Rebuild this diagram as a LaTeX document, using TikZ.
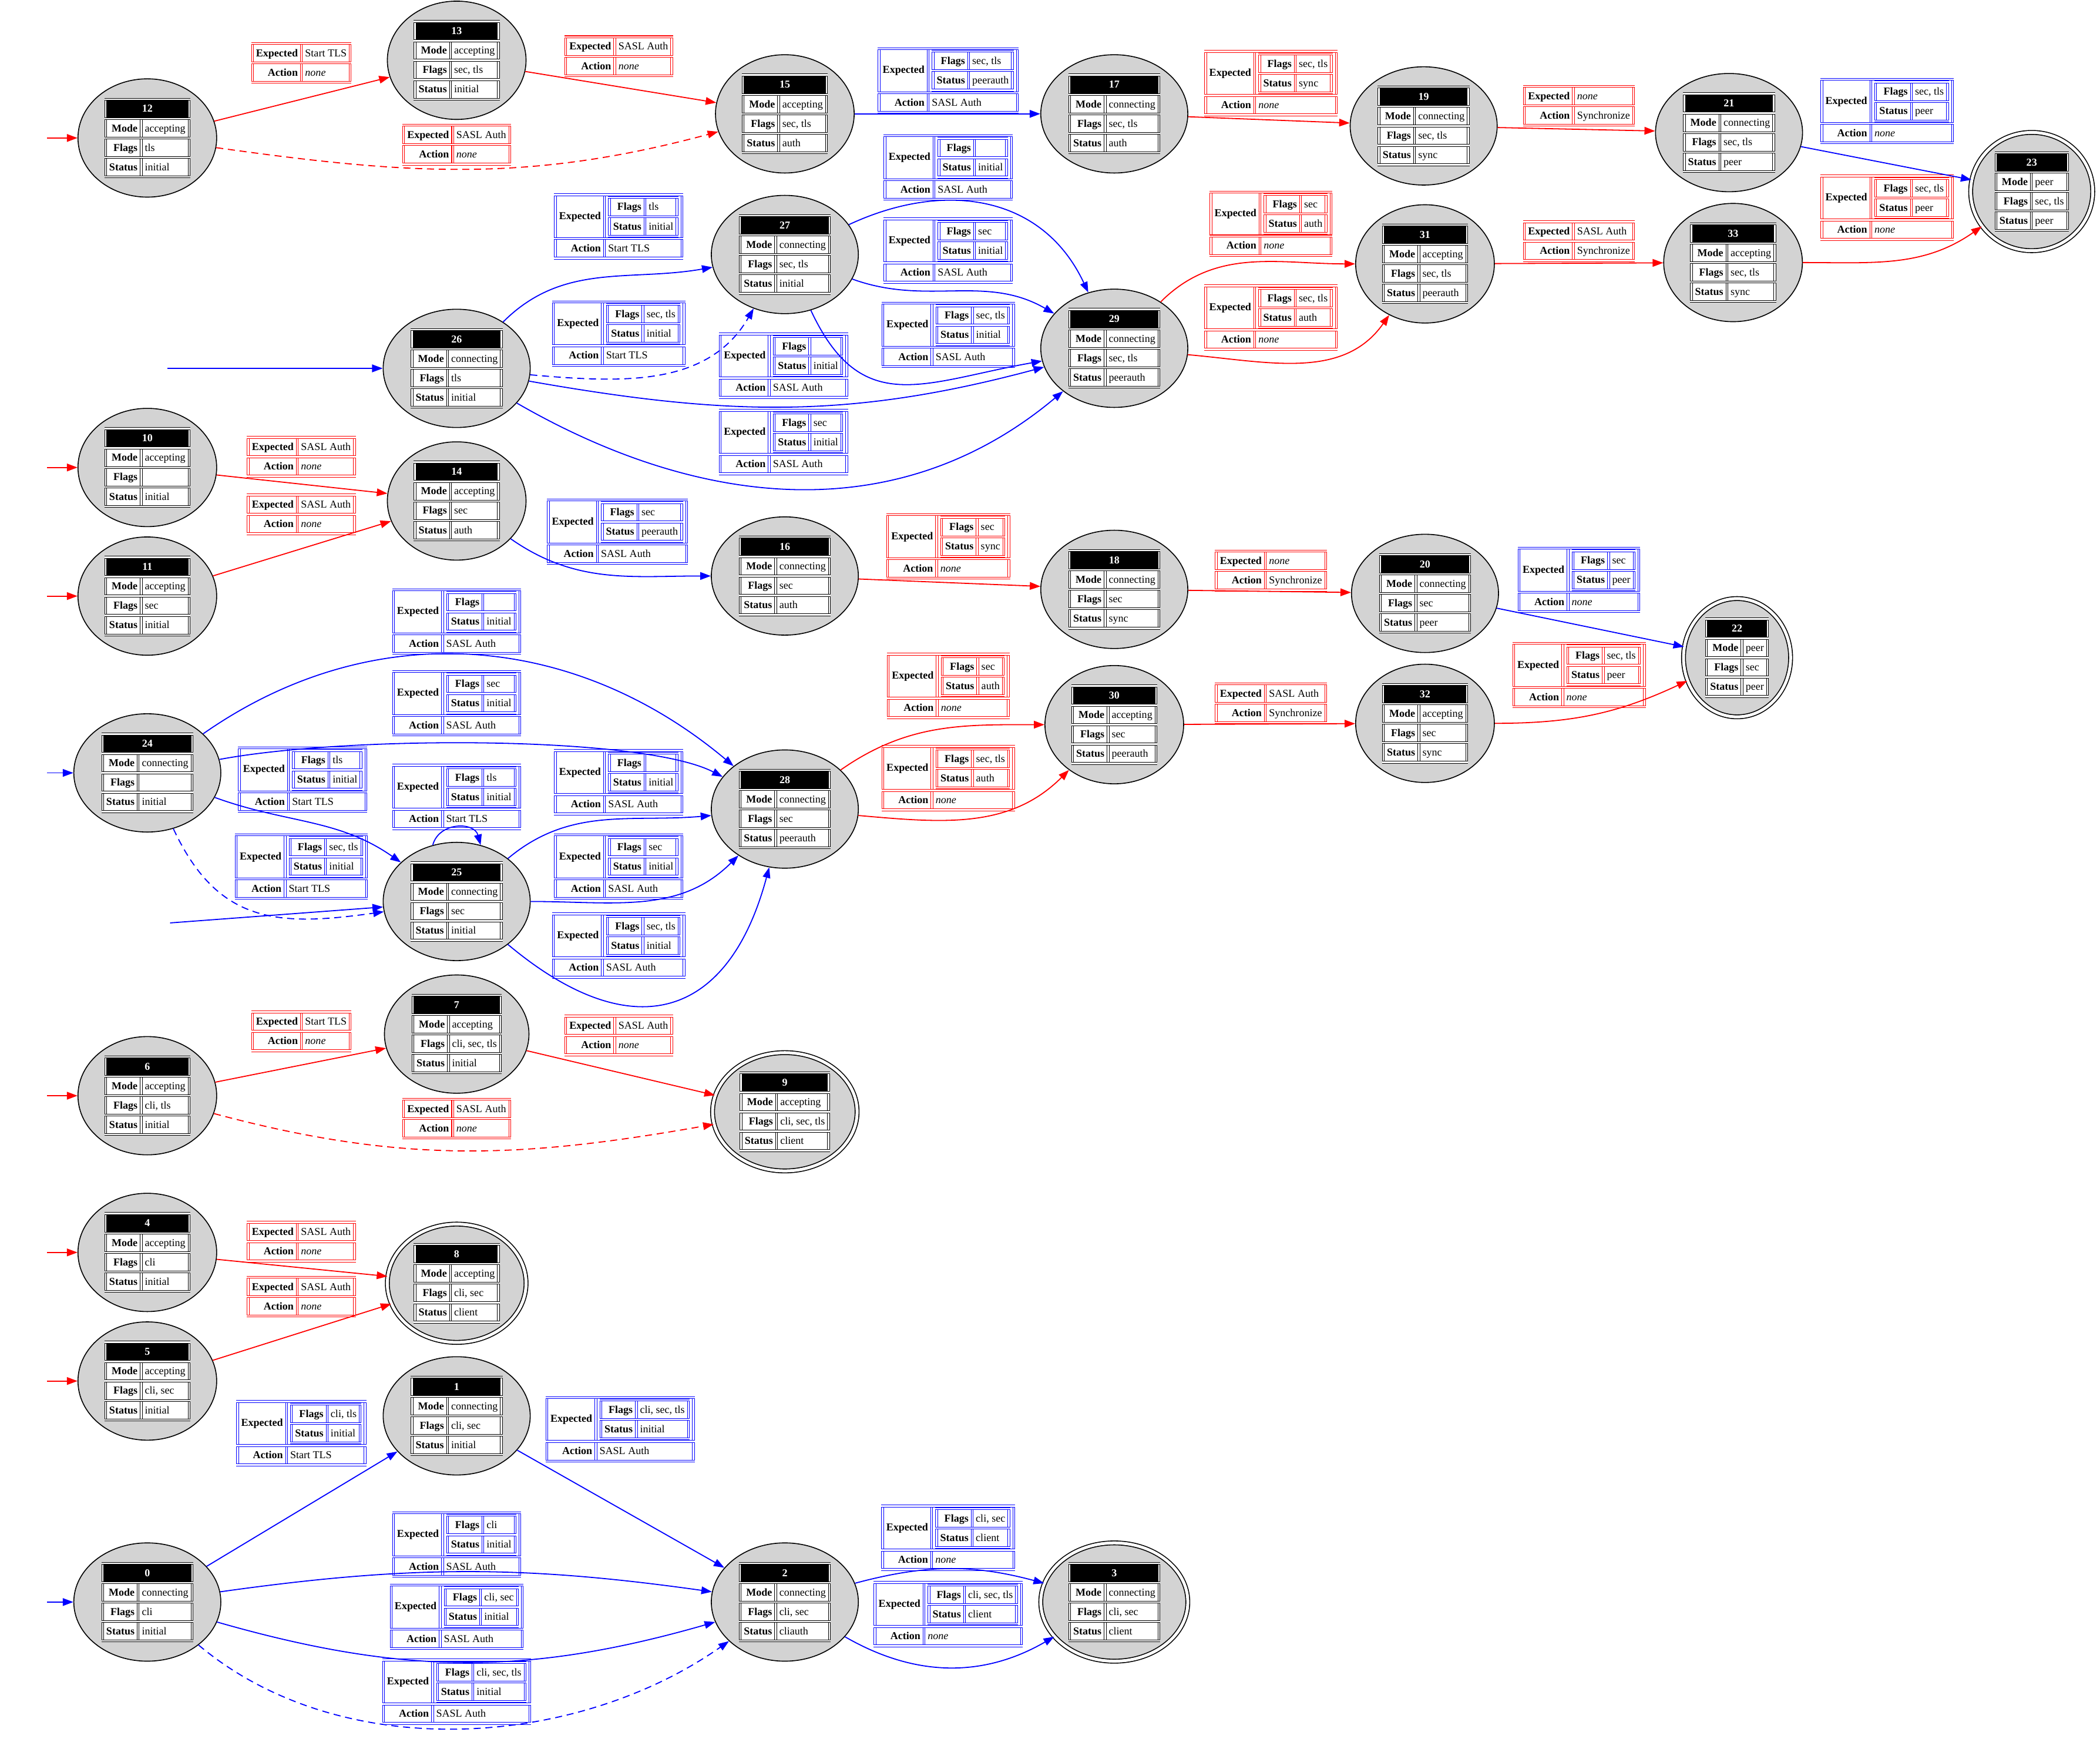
\documentclass[tikz,border=0pt]{standalone}
\usepackage{fontspec}
\setmainfont{Liberation Serif}
\usepackage{colortbl}
\usetikzlibrary{shapes.geometric,arrows.meta}

\definecolor{stgray}{RGB}{211,211,211}
\setlength{\tabcolsep}{2pt}
\setlength{\doublerulesep}{1.2pt}
\setlength{\arrayrulewidth}{0.5pt}
\renewcommand{\arraystretch}{1.3}

% state table: number, mode, flags, status
\newcommand{\stab}[4]{\arrayrulecolor{black}\setlength{\fboxsep}{0pt}%
  \colorbox{white}{\begin{tabular}{||r||l||}\hline\hline
  \multicolumn{2}{||c||}{\cellcolor{black}\textcolor{white}{\textbf{#1}}}\\\hline\hline
  \textbf{Mode} & #2\\\hline\hline
  \textbf{Flags} & #3\\\hline\hline
  \textbf{Status} & #4\\\hline\hline
  \end{tabular}}}
% edge label: colour, expected, action
\newcommand{\slab}[3]{\arrayrulecolor{#1}%
  \begin{tabular}{||r||l||}\hline\hline
  \textbf{Expected} & #2\\\hline\hline
  \textbf{Action} & #3\\\hline\hline
  \end{tabular}}
% edge label: colour, flags, status, action
\newcommand{\nlab}[4]{\arrayrulecolor{#1}%
  \begin{tabular}{||r||l||}\hline\hline
  \textbf{Expected} & \begin{tabular}{||r||l||}\hline\hline
    \textbf{Flags} & #2\\\hline\hline
    \textbf{Status} & #3\\\hline\hline
    \end{tabular}\\\hline\hline
  \textbf{Action} & #4\\\hline\hline
  \end{tabular}}

\begin{document}
\begin{tikzpicture}[x=0.04cm, y=-0.04cm, font=\fontsize{9}{11}\selectfont,
  stnode/.style={ellipse, draw=black, fill=stgray, line width=0.8pt, inner xsep=0.18cm, inner ysep=0.05cm},
  acnode/.style={stnode, double, double distance=2.5pt},
  lab/.style={inner sep=0pt},
  acc/.style={draw=red, line width=0.9pt, -{Triangle[length=9pt,width=6.5pt]}},
  con/.style={draw=blue, line width=0.9pt, -{Triangle[length=9pt,width=6.5pt]}},
  dashline/.style={dash pattern=on 6pt off 4pt}]
\useasboundingbox (0,0) rectangle (1568,1298);

% states
\node[stnode] (s12) at (110,103) {\stab{12}{accepting}{tls}{initial}};
\node[stnode] (s13) at (341,45) {\stab{13}{accepting}{sec, tls}{initial}};
\node[stnode] (s15) at (586,85) {\stab{15}{accepting}{sec, tls}{auth}};
\node[stnode] (s17) at (832,85) {\stab{17}{connecting}{sec, tls}{auth}};
\node[stnode] (s19) at (1063,94) {\stab{19}{connecting}{sec, tls}{sync}};
\node[stnode] (s21) at (1291,99) {\stab{21}{connecting}{sec, tls}{peer}};
\node[acnode] (s23) at (1517,143) {\stab{23}{peer}{sec, tls}{peer}};
\node[stnode] (s26) at (341,275) {\stab{26}{connecting}{tls}{initial}};
\node[stnode] (s27) at (586,190) {\stab{27}{connecting}{sec, tls}{initial}};
\node[stnode] (s29) at (832,260) {\stab{29}{connecting}{sec, tls}{peerauth}};
\node[stnode] (s31) at (1064,197) {\stab{31}{accepting}{sec, tls}{peerauth}};
\node[stnode] (s33) at (1294,196) {\stab{33}{accepting}{sec, tls}{sync}};
\node[stnode] (s10) at (110,349) {\stab{10}{accepting}{}{initial}};
\node[stnode] (s11) at (110,445) {\stab{11}{accepting}{sec}{initial}};
\node[stnode] (s14) at (341,374) {\stab{14}{accepting}{sec}{auth}};
\node[stnode] (s16) at (586,430) {\stab{16}{connecting}{sec}{auth}};
\node[stnode] (s18) at (832,440) {\stab{18}{connecting}{sec}{sync}};
\node[stnode] (s20) at (1064,443) {\stab{20}{connecting}{sec}{peer}};
\node[acnode] (s22) at (1297,491) {\stab{22}{peer}{sec}{peer}};
\node[stnode] (s24) at (110,577) {\stab{24}{connecting}{}{initial}};
\node[stnode] (s25) at (341,673) {\stab{25}{connecting}{sec}{initial}};
\node[stnode] (s28) at (586,604) {\stab{28}{connecting}{sec}{peerauth}};
\node[stnode] (s30) at (832,541) {\stab{30}{accepting}{sec}{peerauth}};
\node[stnode] (s32) at (1064,540) {\stab{32}{accepting}{sec}{sync}};
\node[stnode] (s6) at (110,818) {\stab{6}{accepting}{cli, tls}{initial}};
\node[stnode] (s7) at (341,772) {\stab{7}{accepting}{cli, sec, tls}{initial}};
\node[acnode] (s9) at (586,830) {\stab{9}{accepting}{cli, sec, tls}{client}};
\node[stnode] (s4) at (110,935) {\stab{4}{accepting}{cli}{initial}};
\node[stnode] (s5) at (110,1031) {\stab{5}{accepting}{cli, sec}{initial}};
\node[acnode] (s8) at (341,958) {\stab{8}{accepting}{cli, sec}{client}};
\node[stnode] (s1) at (341,1057) {\stab{1}{connecting}{cli, sec}{initial}};
\node[stnode] (s0) at (110,1196) {\stab{0}{connecting}{cli}{initial}};
\node[stnode] (s2) at (586,1196) {\stab{2}{connecting}{cli, sec}{cliauth}};
\node[acnode] (s3) at (832,1196) {\stab{3}{connecting}{cli, sec}{client}};

% entry points
\coordinate (i12) at (35,103);
\coordinate (i10) at (35,349);
\coordinate (i11) at (35,445);
\coordinate (i24) at (35,577);
\coordinate (i6) at (35,818);
\coordinate (i4) at (35,935);
\coordinate (i5) at (35,1031);
\coordinate (i0) at (35,1196);
\coordinate (i26) at (125,275);
\coordinate (i25) at (127,689);

% labels
\node[lab] (l12x13) at (225,47) {\slab{red}{Start TLS}{\textit{none}}};
\node[lab] (l12x15) at (341,108) {\slab{red}{SASL Auth}{\textit{none}}};
\node[lab] (l13x15) at (462,42) {\slab{red}{SASL Auth}{\textit{none}}};
\node[lab] (l15x17) at (708,60) {\nlab{blue}{sec, tls}{peerauth}{SASL Auth}};
\node[lab] (l17x19) at (949,62) {\nlab{red}{sec, tls}{sync}{\textit{none}}};
\node[lab] (l19x21) at (1179,79) {\slab{red}{\textit{none}}{Synchronize}};
\node[lab] (l21x23) at (1409,83) {\nlab{blue}{sec, tls}{peer}{\textit{none}}};
\node[lab] (l33x23) at (1409,155) {\nlab{red}{sec, tls}{peer}{\textit{none}}};
\node[lab] (l31x33) at (1179,180) {\slab{red}{SASL Auth}{Synchronize}};
\node[lab] (l29x31a) at (949,167) {\nlab{red}{sec}{auth}{\textit{none}}};
\node[lab] (l29x31b) at (949,237) {\nlab{red}{sec, tls}{auth}{\textit{none}}};
\node[lab] (l26x27a) at (462,169) {\nlab{blue}{tls}{initial}{Start TLS}};
\node[lab] (l26x27b) at (462,249) {\nlab{blue}{sec, tls}{initial}{Start TLS}};
\node[lab] (l27x29a) at (708,125) {\nlab{blue}{}{initial}{SASL Auth}};
\node[lab] (l27x29b) at (708,187) {\nlab{blue}{sec}{initial}{SASL Auth}};
\node[lab] (l27x29c) at (708,250) {\nlab{blue}{sec, tls}{initial}{SASL Auth}};
\node[lab] (l26x29a) at (585,273) {\nlab{blue}{}{initial}{SASL Auth}};
\node[lab] (l26x29b) at (585,330) {\nlab{blue}{sec}{initial}{SASL Auth}};
\node[lab] (l10x14) at (225,341) {\slab{red}{SASL Auth}{\textit{none}}};
\node[lab] (l11x14) at (225,384) {\slab{red}{SASL Auth}{\textit{none}}};
\node[lab] (l14x16) at (461,397) {\nlab{blue}{sec}{peerauth}{SASL Auth}};
\node[lab] (l16x18) at (708,408) {\nlab{red}{sec}{sync}{\textit{none}}};
\node[lab] (l18x20) at (949,426) {\slab{red}{\textit{none}}{Synchronize}};
\node[lab] (l20x22) at (1179,433) {\nlab{blue}{sec}{peer}{\textit{none}}};
\node[lab] (l32x22) at (1179,504) {\nlab{red}{sec, tls}{peer}{\textit{none}}};
\node[lab] (l30x32) at (949,525) {\slab{red}{SASL Auth}{Synchronize}};
\node[lab] (l28x30a) at (708,512) {\nlab{red}{sec}{auth}{\textit{none}}};
\node[lab] (l28x30b) at (708,581) {\nlab{red}{sec, tls}{auth}{\textit{none}}};
\node[lab] (l24x28a) at (341,464) {\nlab{blue}{}{initial}{SASL Auth}};
\node[lab] (l24x28b) at (341,525) {\nlab{blue}{sec}{initial}{SASL Auth}};
\node[lab] (l24x25a) at (226,582) {\nlab{blue}{tls}{initial}{Start TLS}};
\node[lab] (l25x25) at (341,595) {\nlab{blue}{tls}{initial}{Start TLS}};
\node[lab] (l24x25b) at (225,647) {\nlab{blue}{sec, tls}{initial}{Start TLS}};
\node[lab] (l25x28a) at (462,584) {\nlab{blue}{}{initial}{SASL Auth}};
\node[lab] (l25x28b) at (462,647) {\nlab{blue}{sec}{initial}{SASL Auth}};
\node[lab] (l25x28c) at (462,706) {\nlab{blue}{sec, tls}{initial}{SASL Auth}};
\node[lab] (l6x7) at (225,770) {\slab{red}{Start TLS}{\textit{none}}};
\node[lab] (l6x9) at (341,835) {\slab{red}{SASL Auth}{\textit{none}}};
\node[lab] (l7x9) at (462,773) {\slab{red}{SASL Auth}{\textit{none}}};
\node[lab] (l4x8) at (225,927) {\slab{red}{SASL Auth}{\textit{none}}};
\node[lab] (l5x8) at (225,968) {\slab{red}{SASL Auth}{\textit{none}}};
\node[lab] (l0x1) at (225,1070) {\nlab{blue}{cli, tls}{initial}{Start TLS}};
\node[lab] (l1x2) at (463,1067) {\nlab{blue}{cli, sec, tls}{initial}{SASL Auth}};
\node[lab] (l0x2a) at (341,1153) {\nlab{blue}{cli}{initial}{SASL Auth}};
\node[lab] (l0x2b) at (341,1207) {\nlab{blue}{cli, sec}{initial}{SASL Auth}};
\node[lab] (l0x2c) at (341,1263) {\nlab{blue}{cli, sec, tls}{initial}{SASL Auth}};
\node[lab] (l2x3a) at (708,1148) {\nlab{blue}{cli, sec}{client}{\textit{none}}};
\node[lab] (l2x3b) at (708,1205) {\nlab{blue}{cli, sec, tls}{client}{\textit{none}}};

% transitions
\draw[acc] (i12) -- (s12);
\draw[acc] (s12) -- (s13);
\draw[acc, dashline] (s12) to[out=-8,in=195] (s15);
\draw[acc] (s13) -- (s15);
\draw[con] (s15) -- (s17);
\draw[acc] (s17) -- (s19);
\draw[acc] (s19) -- (s21);
\draw[con] (s21) -- (s23);
\draw[con] (i26) -- (s26);
\draw[con] (s26) to[out=45,in=190] (s27);
\draw[con, dashline] (s26) to[out=-5,in=240] (s27);
\draw[con] (s26) to[out=-10,in=195] (s29);
\draw[con] (s26) to[out=-30,in=220] (s29);
\draw[con] (s27) to[out=25,in=115,looseness=1.1] (s29);
\draw[con] (s27) to[out=-20,in=150] (s29);
\draw[con] (s27) to[out=-65,in=190,looseness=1.3] (s29);
\draw[acc] (s29) to[out=45,in=180] (s31);
\draw[acc] (s29) to[out=-5,in=235] (s31);
\draw[acc] (s31) -- (s33);
\draw[acc] (s33) to[out=0,in=215] (s23);

\draw[acc] (i10) -- (s10);
\draw[acc] (i11) -- (s11);
\draw[acc] (s10) -- (s14);
\draw[acc] (s11) -- (s14);
\draw[con] (s14) to[out=-35,in=180] (s16);
\draw[acc] (s16) -- (s18);
\draw[acc] (s18) -- (s20);
\draw[con] (s20) -- (s22);
\draw[con] (i24) -- (s24);
\draw[con] (s24) to[out=35,in=140] (s28);
\draw[con] (s24) .. controls (260,549) and (480,549) .. (s28);
\draw[con] (s24) to[out=-20,in=145] (s25);
\draw[con, dashline] (s24) to[out=-65,in=188,looseness=1.2] (s25);
\draw[con] (i25) -- (s25);
\draw[con] (s25.113) to[out=75,in=105,looseness=1.3] (s25.67);
\draw[con] (s25) to[out=40,in=185] (s28);
\draw[con] (s25) to[out=0,in=225] (s28);
\draw[con] (s25) to[out=-40,in=255,looseness=1.5] (s28);
\draw[acc] (s28) to[out=35,in=180] (s30);
\draw[acc] (s28) to[out=-5,in=225] (s30);
\draw[acc] (s30) -- (s32);
\draw[acc] (s32) to[out=0,in=205] (s22);

\draw[acc] (i6) -- (s6);
\draw[acc] (s6) -- (s7);
\draw[acc, dashline] (s6) to[out=-15,in=190] (s9);
\draw[acc] (s7) -- (s9);
\draw[acc] (i4) -- (s4);
\draw[acc] (i5) -- (s5);
\draw[acc] (s4) -- (s8);
\draw[acc] (s5) -- (s8);
\draw[con] (i0) -- (s0);
\draw[con] (s0) -- (s1);
\draw[con] (s1) -- (s2);
\draw[con] (s0) to[bend left=8] (s2);
\draw[con] (s0) to[bend right=16] (s2);
\draw[con, dashline] (s0) to[out=-40,in=215,looseness=0.9] (s2);
\draw[con] (s2) to[out=15,in=165] (s3);
\draw[con] (s2) to[out=-30,in=210] (s3);
\end{tikzpicture}
\end{document}
